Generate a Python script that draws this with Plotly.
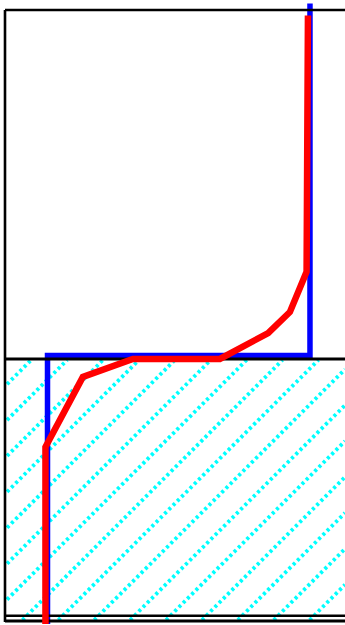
import plotly.graph_objects as go

# Profile data (x: value, y: elevation; ground surface at y = 0)
step_x = [1.25, 1.25, 8.97, 8.97]
step_y = [-7.8, 0.1, 0.1, 10.45]

smooth_x = [1.19, 1.19, 2.29, 3.76, 6.32, 7.74, 8.38, 8.87, 8.91]
smooth_y = [-7.8, -2.59, -0.53, 0.0, 0.0, 0.76, 1.38, 2.56, 10.1]

# Drawing scale: pixels per data unit and pixel position of the origin
PX = 34.0
W, H = 345, 625
ORIGIN_X_PX, ORIGIN_Y_PX = 5.0, 358.9

x_range = [(0 - ORIGIN_X_PX) / PX, (W - ORIGIN_X_PX) / PX]
y_range = [(ORIGIN_Y_PX - H) / PX, ORIGIN_Y_PX / PX]

# Frame geometry (data units)
frame_left = 0.0
frame_right = x_range[1] + 1
frame_top = (ORIGIN_Y_PX - 10) / PX
base_top = (ORIGIN_Y_PX - 615.8) / PX
base_bottom = (ORIGIN_Y_PX - 621.0) / PX

# Ground hatching: 45-degree lines clipped to the soil block
hatch_spacing = 35.9 / PX
hatch_x0 = 19.5 / PX          # intercept at hatch_ref_y
hatch_ref_y = (ORIGIN_Y_PX - 618) / PX
hx_lo, hx_hi = 0.06, x_range[1]
hy_lo, hy_hi = (ORIGIN_Y_PX - 620) / PX, -0.03

hatch_x, hatch_y = [], []
k = -30
while True:
    c = hatch_x0 + k * hatch_spacing - hatch_ref_y  # line: x = c + y
    if c + hy_lo > hx_hi:
        break
    lo = max(hy_lo, hx_lo - c)
    hi = min(hy_hi, hx_hi - c)
    if lo < hi:
        hatch_x += [c + lo, c + hi, None]
        hatch_y += [lo, hi, None]
    k += 1

fig = go.Figure()


def add_line(xs, ys, color, width, dash="solid"):
    fig.add_trace(go.Scatter(
        x=xs, y=ys, mode="lines",
        line=dict(color=color, width=width, dash=dash),
        hoverinfo="skip", showlegend=False,
    ))


# soil hatching
add_line(hatch_x, hatch_y, "#00ffff", 3.8, "3px,3px")

# stepped profile
add_line(step_x, step_y, "#0000ff", 5.5)

# frame
black = "#000000"
add_line([frame_left, frame_left], [frame_top, base_bottom - 0.03], black, 2.6)
add_line([frame_left, frame_right], [frame_top, frame_top], black, 2.6)
add_line([frame_left, frame_right], [0, 0], black, 3)
add_line([frame_left, frame_right], [base_top, base_top], black, 2.4)
add_line([frame_left, frame_right], [base_bottom, base_bottom], black, 3.2)

# smoothed profile
add_line(smooth_x, smooth_y, "#ff0000", 6.5)

fig.update_layout(
    width=W, height=H,
    margin=dict(l=0, r=0, t=0, b=0),
    paper_bgcolor="white", plot_bgcolor="white",
    xaxis=dict(range=x_range, visible=False, fixedrange=True),
    yaxis=dict(range=y_range, visible=False, fixedrange=True),
    showlegend=False,
)

fig.write_html("out.html", config={"displayModeBar": False})
